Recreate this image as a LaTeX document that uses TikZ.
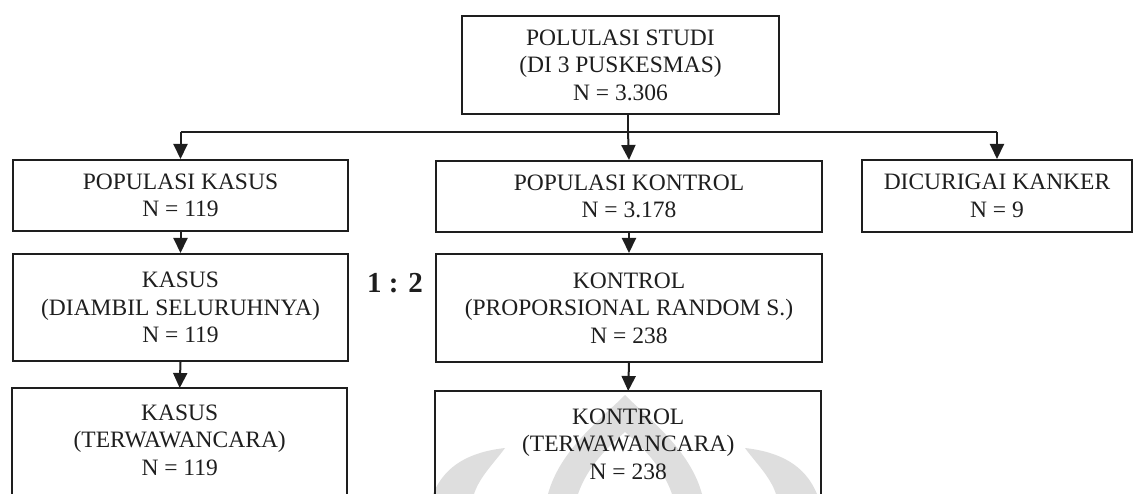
\documentclass[tikz,border=0pt]{standalone}
\usepackage{fontspec}
\setmainfont{Liberation Serif}
\usetikzlibrary{arrows.meta,calc}
\definecolor{ink}{RGB}{30,30,30}
\definecolor{wmark}{RGB}{222,222,222}
\begin{document}
\begin{tikzpicture}[x=1pt,y=-1pt,
  box/.style={draw=ink, line width=2pt, inner sep=0pt, align=center, text=ink,
    font=\fontsize{23.5pt}{27.5pt}\selectfont, anchor=north west},
  opentxt/.style={inner sep=0pt, align=center, text=ink,
    font=\fontsize{23.5pt}{27.5pt}\selectfont, anchor=north west},
  arr/.style={draw=ink, line width=2pt, -{Triangle[length=15pt,width=14pt]}},
  ln/.style={draw=ink, line width=2pt},
  ratio/.style={inner sep=0pt, text=ink, font=\fontsize{29pt}{34pt}\selectfont\bfseries}]
\useasboundingbox (0,0) rectangle (1133,494);
\clip (0,0) rectangle (1133,494);

% faint watermark (background)
\fill[wmark] (433,494) .. controls (445,465) and (470,452) .. (505,448)
  .. controls (495,462) and (480,476) .. (474,494) -- cycle;
\fill[wmark] (548,494) .. controls (560,450) and (600,420) .. (625,395)
  .. controls (650,420) and (690,450) .. (702,494) -- (672,494)
  .. controls (662,465) and (640,445) .. (625,432)
  .. controls (610,445) and (588,465) .. (578,494) -- cycle;
\fill[wmark] (817,494) .. controls (805,465) and (780,452) .. (745,448)
  .. controls (755,462) and (770,476) .. (776,494) -- cycle;

\node[box, minimum width=317pt, minimum height=98pt] (top) at (461,15)
  {POLULASI STUDI\\(DI 3 PUSKESMAS)\\N = 3.306};

\node[box, minimum width=335pt, minimum height=71pt] (popc) at (12,159)
  {POPULASI KASUS\\N = 119};
\node[box, minimum width=386pt, minimum height=71pt] (popk) at (435,160)
  {POPULASI KONTROL\\N = 3.178};
\node[box, minimum width=270pt, minimum height=72pt] (dic) at (861,159)
  {DICURIGAI KANKER\\N = 9};

\node[box, minimum width=335pt, minimum height=107pt] (kasus) at (12,253)
  {KASUS\\(DIAMBIL SELURUHNYA)\\N = 119};
\node[box, minimum width=386pt, minimum height=108pt] (kontrol) at (435,253)
  {KONTROL\\(PROPORSIONAL RANDOM S.)\\N = 238};

\node[opentxt, minimum width=335pt, minimum height=104pt] (kasusT) at (12,388)
  {KASUS\\(TERWAWANCARA)\\N = 119};
\node[opentxt, minimum width=386pt, minimum height=106pt] (kontrolT) at (435,391)
  {KONTROL\\(TERWAWANCARA)\\N = 238};
\draw[ln] ($(kasusT.south west)+(0,60)$) -- (kasusT.north west) -- (kasusT.north east) -- ($(kasusT.south east)+(0,60)$);
\draw[ln] ($(kontrolT.south west)+(0,60)$) -- (kontrolT.north west) -- (kontrolT.north east) -- ($(kontrolT.south east)+(0,60)$);

\node[ratio, anchor=base] (rat) at (395,293) {1 : 2};

\coordinate (split) at (628,132);
\draw[ln] (top.south -| split) -- (split);
\draw[ln] (popc.north |- split) -- (dic.north |- split);
\draw[arr] (popc.north |- split) -- (popc.north);
\draw[arr] (split) -- (popk.north);
\draw[arr] (dic.north |- split) -- (dic.north);

\draw[arr] (popc.south) -- (kasus.north);
\draw[arr] (popk.south) -- (kontrol.north);
\draw[arr] (kasus.south) -- (kasusT.north);
\draw[arr] (kontrol.south) -- (kontrolT.north);
\end{tikzpicture}
\end{document}
